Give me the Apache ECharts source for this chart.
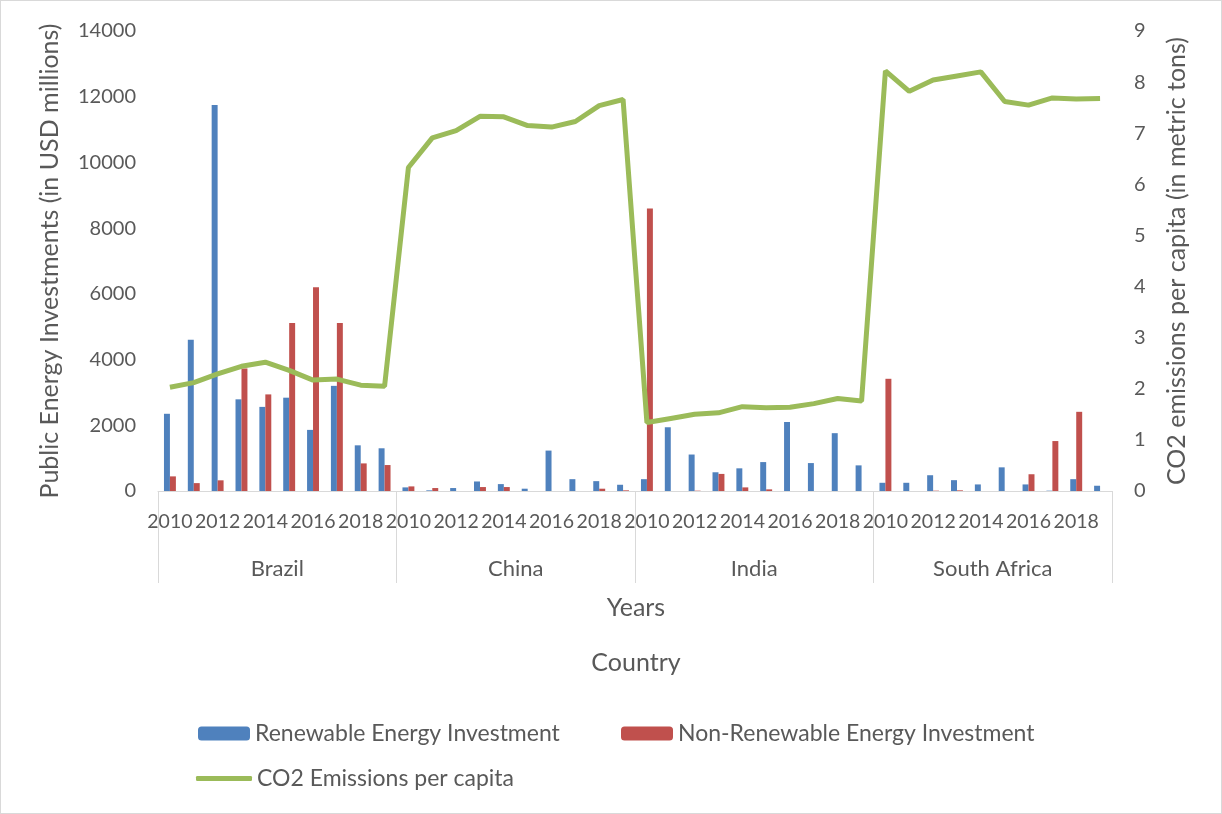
<!DOCTYPE html>
<html>
<head>
<meta charset="utf-8">
<script src="https://cdn.jsdelivr.net/npm/echarts@6/dist/echarts.min.js"></script>
<style>
  html, body { margin: 0; padding: 0; background: #fff; }
  #chart { width: 1222px; height: 814px; box-sizing: border-box; border: 1px solid #d9d9d9; }
</style>
</head>
<body>
<div id="chart"></div>
<script>
const countries = ["Brazil", "China", "India", "South Africa"];
const years = ["2010", "2011", "2012", "2013", "2014", "2015", "2016", "2017", "2018", "2019"];

// USD millions, one value per country-year (Brazil, China, India, South Africa)
const renewable = [
  2350, 4600, 11750, 2790, 2560, 2840, 1860, 3200, 1390, 1300,
  110, 20, 90, 290, 210, 70, 1230, 360, 300, 190,
  360, 1940, 1110, 570, 690, 880, 2100, 850, 1760, 780,
  250, 250, 480, 330, 200, 720, 200, 10, 360, 160
];
const nonRenewable = [
  445, 240, 325, 3730, 2940, 5110, 6200, 5110, 840, 790,
  140, 90, 0, 120, 120, 0, 0, 0, 70, 20,
  8600, 0, 10, 520, 110, 50, 0, 0, 0, 0,
  3415, 0, 10, 20, 0, 0, 510, 1520, 2410, 0
];
// metric tons per capita
const co2 = [
  2.03, 2.12, 2.29, 2.44, 2.52, 2.36, 2.17, 2.19, 2.07, 2.05,
  6.33, 6.91, 7.05, 7.33, 7.32, 7.15, 7.12, 7.23, 7.54, 7.66,
  1.34, 1.42, 1.50, 1.53, 1.65, 1.63, 1.64, 1.71, 1.81, 1.76,
  8.22, 7.82, 8.04, 8.12, 8.20, 7.62, 7.55, 7.69, 7.67, 7.68
];

const categories = [];
countries.forEach((c) => years.forEach((y) => categories.push(c + "|" + y)));

const FONT = "Lato";
const TXT = "#595959";
const GRID_LINE = "#d9d9d9";
const LEGEND_TEXT = { fontSize: 23, color: TXT, fontFamily: FONT };

const chart = echarts.init(document.getElementById("chart"), null, { renderer: "canvas" });

const option = {
  animation: false,
  textStyle: { fontFamily: FONT, color: TXT },
  grid: { left: 157, right: 109, top: 30, bottom: 322 },
  legend: [
    {
      data: ["Renewable Energy Investment"],
      left: 197, top: 721, padding: 0,
      itemWidth: 52, itemHeight: 14,
      textStyle: LEGEND_TEXT
    },
    {
      data: ["Non-Renewable Energy Investment"],
      left: 620, top: 721, padding: 0,
      itemWidth: 52, itemHeight: 14,
      textStyle: LEGEND_TEXT
    },
    {
      data: [{ name: "CO2 Emissions per capita", icon: "roundRect" }],
      left: 195, top: 766, padding: 0,
      itemWidth: 56, itemHeight: 5,
      textStyle: LEGEND_TEXT
    }
  ],
  xAxis: [
    {
      type: "category",
      data: categories,
      boundaryGap: true,
      axisLine: { show: true, lineStyle: { color: GRID_LINE, width: 1 } },
      axisTick: { show: false },
      axisLabel: {
        interval: 1,
        margin: 21,
        fontSize: 19.5,
        color: TXT,
        fontFamily: FONT,
        formatter: (v) => v.split("|")[1]
      }
    },
    {
      type: "category",
      data: countries,
      position: "bottom",
      boundaryGap: true,
      axisLine: { show: false },
      axisTick: { show: true, interval: 0, length: 92, lineStyle: { color: GRID_LINE } },
      axisLabel: { interval: 0, margin: 67, fontSize: 22, color: TXT, fontFamily: FONT }
    }
  ],
  yAxis: [
    {
      type: "value",
      min: 0, max: 14000, interval: 2000,
      name: "Public Energy Investments (in USD millions)",
      nameLocation: "middle",
      nameGap: 96,
      nameTextStyle: { fontSize: 25, color: TXT, fontFamily: FONT },
      axisLine: { show: false },
      axisTick: { show: false },
      splitLine: { show: false },
      axisLabel: { margin: 22, fontSize: 20, color: TXT, fontFamily: FONT, formatter: (v) => String(v) }
    },
    {
      type: "value",
      min: 0, max: 9, interval: 1,
      name: "CO2 emissions per capita (in metric tons)",
      nameLocation: "middle",
      nameGap: 52,
      nameRotate: 90,
      nameTextStyle: { fontSize: 25, color: TXT, fontFamily: FONT },
      axisLine: { show: false },
      axisTick: { show: false },
      splitLine: { show: false },
      axisLabel: { margin: 22, fontSize: 20, color: TXT, fontFamily: FONT }
    }
  ],
  graphic: [
    {
      type: "text", x: 635, y: 607,
      style: { text: "Years", fontSize: 25, fill: TXT, fontFamily: FONT, align: "center", verticalAlign: "middle" }
    },
    {
      type: "text", x: 635, y: 662,
      style: { text: "Country", fontSize: 25, fill: TXT, fontFamily: FONT, align: "center", verticalAlign: "middle" }
    }
  ],
  series: [
    {
      name: "Renewable Energy Investment",
      type: "bar",
      data: renewable,
      barGap: "0%",
      barCategoryGap: "50%",
      itemStyle: { color: "#4f81bd" }
    },
    {
      name: "Non-Renewable Energy Investment",
      type: "bar",
      data: nonRenewable,
      barGap: "0%",
      barCategoryGap: "50%",
      itemStyle: { color: "#c0504d" }
    },
    {
      name: "CO2 Emissions per capita",
      type: "line",
      yAxisIndex: 1,
      data: co2,
      symbol: "none",
      lineStyle: { color: "#9bbb59", width: 5 },
      itemStyle: { color: "#9bbb59" }
    }
  ]
};

chart.setOption(option);
</script>
</body>
</html>
